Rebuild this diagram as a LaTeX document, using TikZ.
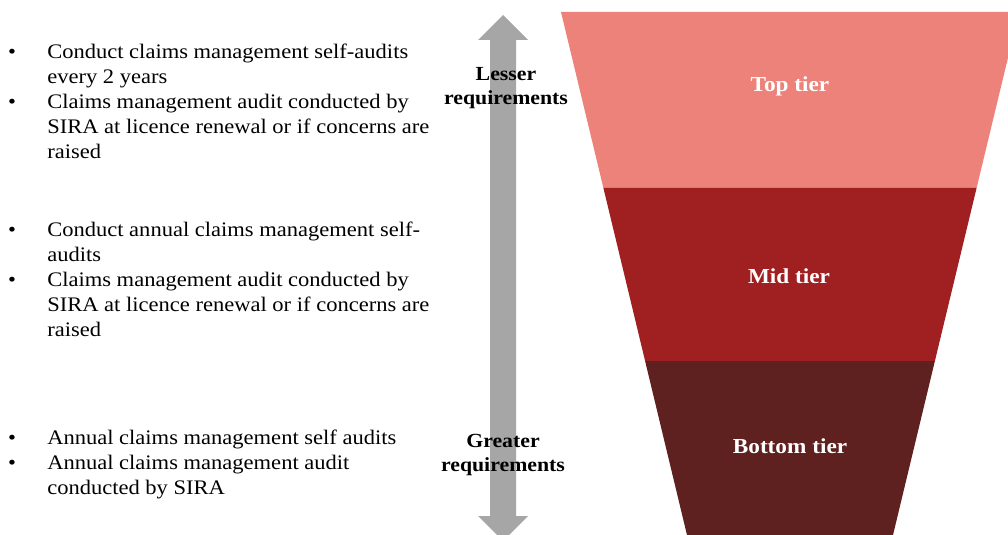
\documentclass[tikz,border=0pt]{standalone}
\usepackage{fontspec}
\setmainfont[FakeStretch=1.09]{Liberation Serif}
\definecolor{toptier}{RGB}{236,130,122}
\definecolor{midtier}{RGB}{160,31,33}
\definecolor{bottomtier}{RGB}{95,33,32}
\definecolor{arrowgrey}{RGB}{166,166,166}
\begin{document}
\begin{tikzpicture}[x=0.75pt, y=-0.75pt,
    item/.style = {anchor=base west, align=left, inner sep=0pt, font=\fontsize{15.5}{18.75}\selectfont},
    dot/.style = {anchor=base, inner sep=0pt, font=\fontsize{15.5}{18.75}\selectfont},
    side/.style = {align=center, inner sep=0pt, font=\fontsize{15}{17.5}\selectfont\bfseries},
    tier/.style = {text=white, inner sep=0pt, font=\fontsize{16}{19}\selectfont\bfseries}]
    \useasboundingbox (0,0) rectangle (1008,535);
    \clip (0,0) rectangle (1008,535);
    \fill [color=toptier] (561,12) -- (1019,12) -- (976.6,188) -- (603.4,188) -- cycle;
    \fill [color=midtier] (603.4,188) -- (976.6,188) -- (934.9,361) -- (645.1,361) -- cycle;
    \fill [color=bottomtier] (645.1,361) -- (934.9,361) -- (887,560) -- (693,560) -- cycle;
    \fill [color=arrowgrey] (503,15) -- (528,40) -- (516,40) -- (516,516) -- (528,516)
        -- (503,541) -- (478,516) -- (490,516) -- (490,40) -- (478,40) -- cycle;
    \node[tier] (top) at (790,86) {Top tier};
    \node[tier] (mid) at (789,276) {Mid tier};
    \node[tier] (bottom) at (790,446) {Bottom tier};
    \node[side] (lesser) at (506,88) {Lesser\\requirements};
    \node[side] (greater) at (503,455) {Greater\\requirements};
    % each item node sits on the baseline of its last line
    \node[dot] (b1) at (12,59) {\textbullet};
    \node[item] (t1) at (47,84) {Conduct claims management self-audits\\every 2 years};
    \node[dot] (b2) at (12,109) {\textbullet};
    \node[item] (t2) at (47,159) {Claims management audit conducted by\\SIRA at licence renewal or if concerns are\\raised};
    \node[dot] (b3) at (12,236) {\textbullet};
    \node[item] (t3) at (47,261) {Conduct annual claims management self-\\audits};
    \node[dot] (b4) at (12,286) {\textbullet};
    \node[item] (t4) at (47,336) {Claims management audit conducted by\\SIRA at licence renewal or if concerns are\\raised};
    \node[dot] (b5) at (12,444) {\textbullet};
    \node[item] (t5) at (47,444) {Annual claims management self audits};
    \node[dot] (b6) at (12,469) {\textbullet};
    \node[item] (t6) at (47,494) {Annual claims management audit\\conducted by SIRA};
\end{tikzpicture}
\end{document}
